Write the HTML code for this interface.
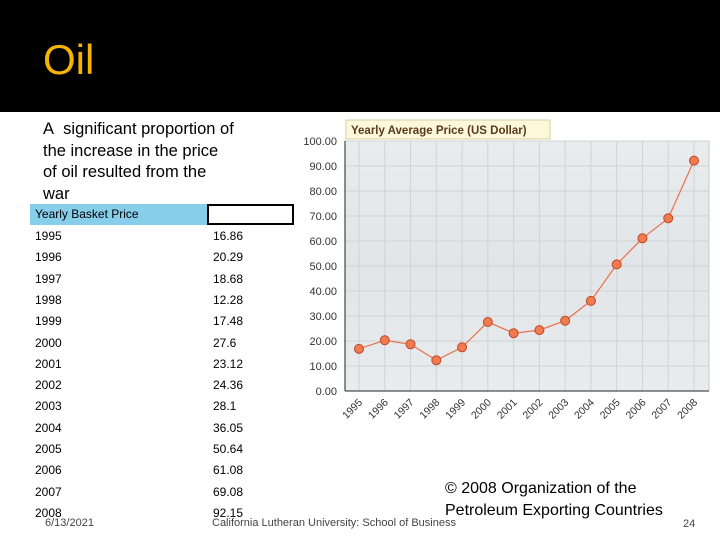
<!DOCTYPE html>
<html><head><meta charset="utf-8"><style>
body{margin:0;width:720px;height:540px;overflow:hidden;background:#fff;position:relative;font-family:"Liberation Sans",sans-serif}
.abs{position:absolute}
</style></head><body>
<div class="abs" style="left:0;top:0;width:720px;height:112px;background:#000"></div>
<div class="abs" style="left:43px;top:36px;font-size:42px;color:#f5b400">Oil</div>
<div class="abs" style="left:43px;top:119px;width:260px;font-size:16.5px;line-height:21.5px;color:#000;white-space:nowrap">A&nbsp; significant proportion of<br>the increase in the price<br>of oil resulted from the<br>war</div>
<div class="abs" style="left:30px;top:204px;width:177px;height:21px;background:#87ceeb;font-size:12px;line-height:21px;padding-left:5px;box-sizing:border-box">Yearly Basket Price</div>
<div class="abs" style="left:207px;top:204px;width:87px;height:21px;border:2px solid #000;box-sizing:border-box"></div>
<div id="tbl"></div>
<svg id="chart" class="abs" style="left:0;top:0" width="720" height="540">
<defs><linearGradient id="bg" x1="0" y1="0" x2="0" y2="1"><stop offset="0" stop-color="#e9ecef"/><stop offset="0.5" stop-color="#e2e5e8"/><stop offset="1" stop-color="#e9ecee"/></linearGradient></defs>
</svg>
<div class="abs" style="left:45px;top:517px;font-size:11px;color:#444">6/13/2021</div>
<div class="abs" style="left:212px;top:517px;font-size:11px;color:#444">California Lutheran University: School of Business</div>
<div class="abs" style="left:683px;top:518px;font-size:11px;color:#444">24</div>
<div class="abs" style="left:445px;top:478px;font-size:16px;line-height:22px;color:#000">© 2008 Organization of the<br>Petroleum Exporting Countries</div>
<script>
const years=["1995","1996","1997","1998","1999","2000","2001","2002","2003","2004","2005","2006","2007","2008"];
const prices=[16.86,20.29,18.68,12.28,17.48,27.6,23.12,24.36,28.1,36.05,50.64,61.08,69.08,92.15];
const priceLabels=["16.86","20.29","18.68","12.28","17.48","27.6","23.12","24.36","28.1","36.05","50.64","61.08","69.08","92.15"];
const yTicks=[0,10,20,30,40,50,60,70,80,90,100];

const tbl=document.getElementById('tbl');
years.forEach((y,i)=>{
  const top=229+i*21.3;
  const a=document.createElement('div');a.className='abs';
  
  
  a.style.cssText=`left:35px;top:${top}px;font-size:12px;`;a.textContent=y;tbl.appendChild(a);
  const b=document.createElement('div');b.className='abs';
  
  
  b.style.cssText=`left:213px;top:${top}px;font-size:12px;`;b.textContent=priceLabels[i];tbl.appendChild(b);
});

const svg=document.getElementById('chart');const NS='http://www.w3.org/2000/svg';
const X0=345,X1=709,Y0=391,Y1=141;
const xs=i=>359+i*(694-359)/(years.length-1);
const ys=v=>Y0-(v/100)*(Y0-Y1);
function el(t,a,name){const e=document.createElementNS(NS,t);for(const k in a)e.setAttribute(k,a[k]);
  
  
  svg.appendChild(e);return e;}
el('rect',{x:X0,y:Y1,width:X1-X0,height:Y0-Y1,fill:'url(#bg)',stroke:'#c8cbce'},'plot-area');
yTicks.forEach(t=>{
  el('line',{x1:X0,x2:X1,y1:ys(t),y2:ys(t),stroke:'#d0d3d6'},'y-gridline');
  const tx=el('text',{x:X0-8,y:ys(t)+4,'text-anchor':'end','font-size':'11',fill:'#333'},'y-tick-label');tx.textContent=t.toFixed(2);
});
years.forEach((y,i)=>{
  el('line',{x1:xs(i),x2:xs(i),y1:Y1,y2:Y0,stroke:'#d0d3d6'},'x-gridline');
  const tx=el('text',{x:xs(i)+4,y:Y0+12,'text-anchor':'end','font-size':'10.5',fill:'#333',transform:`rotate(-45 ${xs(i)+4} ${Y0+12})`},'x-tick-label');tx.textContent=y;
});
el('line',{x1:X0,x2:X1,y1:Y0,y2:Y0,stroke:'#222'},'x-axis');
el('line',{x1:X0,x2:X0,y1:Y1,y2:Y0,stroke:'#222'},'y-axis');
el('polyline',{points:prices.map((v,i)=>xs(i)+','+ys(v)).join(' '),fill:'none',stroke:'#e8704a','stroke-width':1.2},'price-line');
prices.forEach((v,i)=>el('circle',{cx:xs(i),cy:ys(v),r:4.5,fill:'#f27a4f',stroke:'#b94a2a'},'price-point'));
el('rect',{x:346,y:120,width:204,height:19,fill:'#fdf8dc',stroke:'#d8cfa0'},'chart-title-tab');
const tt=el('text',{x:351,y:134,'font-size':'11.5','font-weight':'bold',fill:'#5a3a1a'},'chart-title');tt.textContent='Yearly Average Price (US Dollar)';
</script>
</body></html>
